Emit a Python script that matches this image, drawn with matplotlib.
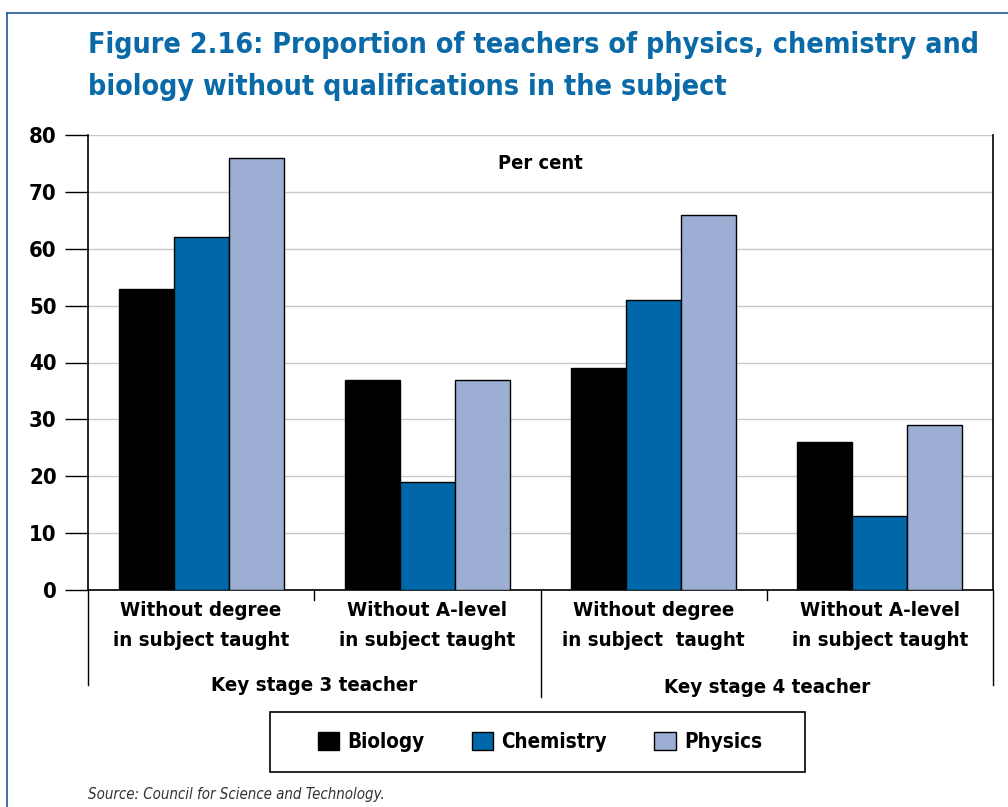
import matplotlib
matplotlib.use('Agg')
import matplotlib.pyplot as plt
import matplotlib.font_manager as fm
from matplotlib.patches import Rectangle
import numpy as np

# use the condensed DejaVu cut if the system has it, else shrink the sizes
has_cond = any(f.name == 'DejaVu Sans' and f.stretch == 'condensed' and f.weight in ('bold', 700)
               for f in fm.fontManager.ttflist)
k = 1 / 0.9 if has_cond else 1.0
plt.rcParams['font.family'] = 'DejaVu Sans'
plt.rcParams['font.stretch'] = 'condensed' if has_cond else 'normal'

# data
categories = ['Without degree\nin subject taught', 'Without A-level\nin subject taught',
              'Without degree\nin subject  taught', 'Without A-level\nin subject taught']
groups = ['Key stage 3 teacher', 'Key stage 4 teacher']
biology = [53, 37, 39, 26]
chemistry = [62, 19, 51, 13]
physics = [76, 37, 66, 29]
series = ['Biology', 'Chemistry', 'Physics']
colors = ['#000000', '#0068a8', '#9caed4']

W, H = 1008, 807
fig = plt.figure(figsize=(W / 100, H / 100), dpi=100)
ax = fig.add_axes([88 / W, 1 - 590 / H, (993 - 88) / W, (590 - 135) / H])

x = np.arange(len(categories))
bw = 0.243
for i, (vals, name, c) in enumerate(zip([biology, chemistry, physics], series, colors)):
    ax.bar(x + (i - 1) * bw, vals, bw, color=c, edgecolor='black', linewidth=1, label=name, zorder=3)

ax.set_xlim(-0.5, 3.5)
ax.set_ylim(0, 80)
ax.set_yticks(range(0, 81, 10))
ax.yaxis.grid(True, color='#c8c8c8', linewidth=1, zorder=0)
ax.set_xticks([])
ax.tick_params(axis='y', length=16.5, width=1, labelsize=14.3 * k, pad=6)
for lbl in ax.get_yticklabels():
    lbl.set_fontweight('bold')
ax.spines['top'].set_visible(False)
for s in ['left', 'right', 'bottom']:
    ax.spines[s].set_linewidth(1.2)

ax.text(0.5, 0.938, 'Per cent', transform=ax.transAxes, ha='center', va='center',
        fontsize=13 * k, fontweight='bold')

# category labels under the axis
tr = ax.get_xaxis_transform()
for xi, cat in zip(x, categories):
    ax.text(xi, -0.078, cat, transform=tr, ha='center', va='center',
            fontsize=13.2 * k, fontweight='bold', linespacing=1.75)
for gi, g in enumerate(groups):
    ax.text(0.5 + 2 * gi, -0.209 - 0.005 * gi, g, transform=tr,
            ha='center', va='center', fontsize=13.2 * k, fontweight='bold')

for xs, y0 in [(-0.5, -0.209), (1.5, -0.235), (3.5, -0.209), (0.5, -0.022), (2.5, -0.022)]:
    ax.plot([xs, xs], [0, y0], color='black', linewidth=1, transform=tr, clip_on=False)

# title
fig.text(88 / W, 1 - 66 / H, 'Figure 2.16: Proportion of teachers of physics, chemistry and\n'
         'biology without qualifications in the subject', ha='left', va='center',
         fontsize=18.5 * k, fontweight='bold', color='#0a6aa8', linespacing=1.68)

# legend
fig.patches.append(Rectangle((270 / W, 1 - 772 / H), 535 / W, 60 / H, transform=fig.transFigure,
                             fill=False, edgecolor='black', linewidth=1.2))
fig.legend(loc='center', bbox_to_anchor=(540 / W, 1 - 742 / H), ncol=3, frameon=False,
           prop={'size': 13.3 * k, 'weight': 'bold'}, handlelength=1.05, handleheight=1.0,
           columnspacing=2.3, handletextpad=0.4)

fig.text(88 / W, 1 - 794 / H, 'Source: Council for Science and Technology.', fontsize=10.8,
         style='italic', color='#333333', ha='left', va='center')

# outer frame lines
fig.add_artist(plt.Line2D([7 / W, 7 / W], [0, 1 - 12.5 / H], color='#1f5a9a', linewidth=1.2,
                          transform=fig.transFigure))
fig.add_artist(plt.Line2D([7 / W, 1], [1 - 12.5 / H, 1 - 12.5 / H], color='#1f5a9a', linewidth=1.2,
                          transform=fig.transFigure))

fig.savefig('out.png', dpi=100)
